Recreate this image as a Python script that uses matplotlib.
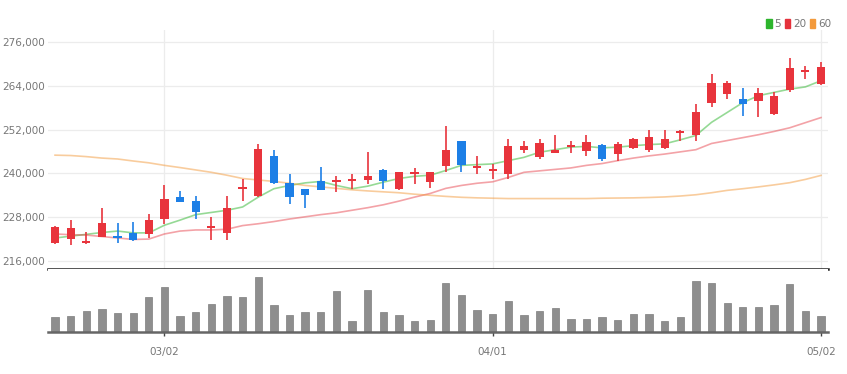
import matplotlib
matplotlib.use("Agg")
import matplotlib.pyplot as plt
from matplotlib.patches import Patch
from matplotlib.ticker import FuncFormatter

plt.rcParams['font.family'] = ['Liberation Sans Narrow', 'DejaVu Sans']

# daily candles, one per trading day (index 0..49)
opens = [220900, 221900, 221000, 222600, 222700, 223600, 223400, 227600, 233500, 232400,
         225100, 223800, 235600, 233700, 244700, 237400, 235700, 237800, 237700, 237800,
         238300, 240800, 235600, 239700, 237600, 241900, 249000, 241500, 240700, 239900,
         246500, 244400, 245700, 247200, 246100, 247900, 245400, 247000, 246500, 247000,
         251000, 250600, 259200, 261700, 260400, 259900, 256400, 262800, 267700, 264600]
highs = [225600, 227200, 224000, 230600, 226300, 226700, 228800, 236700, 235200, 233700,
         228100, 233700, 238600, 248100, 246500, 239700, 235700, 241700, 239200, 239700,
         246000, 241300, 240400, 241600, 240500, 253100, 249000, 244900, 242600, 249500,
         248800, 249500, 250600, 249000, 250400, 248000, 248500, 249700, 251900, 251900,
         251900, 259000, 267200, 265400, 263500, 263500, 262400, 271600, 269500, 270400]
lows = [220600, 220400, 220600, 222500, 220800, 221500, 222200, 226100, 232100, 227600,
        221700, 221700, 232400, 233500, 237200, 231700, 230400, 235400, 234900, 235800,
        237200, 235800, 235400, 237200, 236100, 240400, 240400, 239700, 238600, 238600,
        245500, 244000, 245500, 245500, 244900, 243500, 243300, 246700, 245800, 246700,
        248800, 249000, 258300, 260400, 255800, 255400, 256100, 262200, 265800, 264200]
closes = [225300, 225100, 221300, 226400, 222300, 221700, 227200, 233100, 232200, 229400,
          225500, 230500, 236000, 246700, 237400, 233500, 234200, 235400, 238100, 238200,
          239300, 237800, 240400, 240100, 240400, 246500, 242200, 241900, 241200, 247400,
          247400, 248300, 246500, 247900, 248500, 244000, 248100, 249500, 250100, 249500,
          251500, 256700, 264900, 264900, 259000, 261900, 261300, 268800, 268100, 269200]

# moving averages as drawn (5, 20, 60 days)
ma5 = [222300, 222800, 223300, 223800, 224200, 223700, 223700, 225800, 227200, 228700,
       229300, 229900, 230800, 233500, 235800, 236700, 237400, 237800, 236700, 235800,
       236500, 237600, 238600, 239200, 239500, 240800, 242200, 242400, 242600, 243500,
       244400, 245800, 246500, 247200, 247400, 247000, 247200, 247600, 247900, 248100,
       249200, 250400, 254000, 256700, 259400, 261300, 262200, 263100, 263700, 265400]
ma20 = [223400, 223200, 223100, 222700, 222300, 221900, 222000, 223400, 224200, 224500,
        224500, 224700, 225700, 226200, 226800, 227500, 228100, 228700, 229200, 229900,
        230600, 231400, 232400, 233500, 234500, 235900, 236700, 237300, 237700, 238900,
        240300, 240700, 241100, 241500, 242200, 242700, 243500, 244200, 244800, 245300,
        245900, 246500, 248200, 249000, 249800, 250600, 251500, 252500, 253900, 255300]
ma60 = [245000, 244900, 244600, 244200, 243950, 243400, 242900, 242200, 241600, 240950,
        240300, 239500, 238600, 238200, 237800, 237300, 236700, 236300, 235900, 235500,
        235200, 234950, 234700, 234300, 234000, 233700, 233450, 233300, 233200, 233100,
        233100, 233100, 233100, 233100, 233100, 233200, 233250, 233300, 233400, 233550,
        233800, 234150, 234700, 235350, 235800, 236300, 236850, 237450, 238350, 239450]

# volume, thousand shares
volumes = [300, 330, 430, 470, 380, 380, 710, 910, 330, 410,
           570, 730, 710, 1100, 550, 350, 400, 410, 820, 230,
           850, 400, 350, 230, 250, 990, 750, 450, 370, 620,
           350, 430, 480, 270, 270, 310, 250, 370, 370, 230,
           300, 1020, 990, 590, 500, 500, 550, 960, 430, 330]

tick_pos = [7, 28, 49]
tick_labels = ['03/02', '04/01', '05/02']
price_ticks = [216000, 228000, 240000, 252000, 264000, 276000]

UP = '#e8343c'
DOWN = '#1d7fe6'
MA_COLORS = {'5': '#2cb52c', '20': '#e5323c', '60': '#f39a3c'}
TXT = '#777777'

W, H = 847, 374
fig = plt.figure(figsize=(W / 100, H / 100), dpi=100)


def box(l, t, r, b):
    return [l / W, 1 - b / H, (r - l) / W, (b - t) / H]


ax = fig.add_axes(box(48, 30, 828, 269))
axv = fig.add_axes(box(48, 269, 828, 332), sharex=ax)

x = list(range(len(closes)))

# moving average lines
ax.plot(x, ma5, color=MA_COLORS['5'], lw=1.2, alpha=0.5, zorder=2)
ax.plot(x, ma20, color=MA_COLORS['20'], lw=1.2, alpha=0.45, zorder=2)
ax.plot(x, ma60, color=MA_COLORS['60'], lw=1.2, alpha=0.5, zorder=2)

# candles
colors = [UP if c >= o else DOWN for o, c in zip(opens, closes)]
bottoms = [min(o, c) for o, c in zip(opens, closes)]
heights = [max(abs(c - o), 550) for o, c in zip(opens, closes)]
ax.vlines(x, lows, highs, colors=colors, lw=1.2, zorder=3)
ax.bar(x, heights, bottom=bottoms, width=0.53, color=colors, zorder=4)

ax.set_xlim(-0.45, 49.45)
ax.set_ylim(213800, 279300)
ax.set_yticks(price_ticks)
ax.yaxis.set_major_formatter(FuncFormatter(lambda v, p: f'{int(v):,}'))
ax.tick_params(axis='y', length=0, pad=2, labelsize=7.5, labelcolor=TXT)
ax.tick_params(axis='x', length=0, labelbottom=False)
ax.set_xticks(tick_pos)
ax.grid(True, color='#ececec', lw=0.9, zorder=0)
for s in ['top', 'left', 'right']:
    ax.spines[s].set_visible(False)
ax.spines['bottom'].set_color('#222222')
ax.spines['bottom'].set_linewidth(1.8)

# volume
axv.bar(x, volumes, width=0.47, color='#8e8e8e', edgecolor='#7d7d7d', lw=0.5, zorder=2)
axv.set_ylim(0, 1260)
axv.set_yticks([])
axv.set_xticks(tick_pos)
axv.set_xticklabels(tick_labels)
axv.tick_params(axis='x', length=3, width=1, color='#444444', pad=8,
                labelsize=7.5, labelcolor=TXT)
for s in ['top', 'left', 'right']:
    axv.spines[s].set_visible(False)
axv.spines['bottom'].set_color('#666666')
axv.spines['bottom'].set_linewidth(1.8)

handles = [Patch(color=MA_COLORS[k]) for k in ['5', '20', '60']]
fig.legend(handles, ['5', '20', '60'], loc='upper right',
           bbox_to_anchor=(831 / W, 1 - 19 / H), ncol=3, frameon=False,
           fontsize=7.5, handlelength=0.5, handleheight=0.9, handletextpad=0.25,
           columnspacing=0.4, borderaxespad=0, borderpad=0, labelcolor=TXT)

fig.savefig('out.png', dpi=100)
